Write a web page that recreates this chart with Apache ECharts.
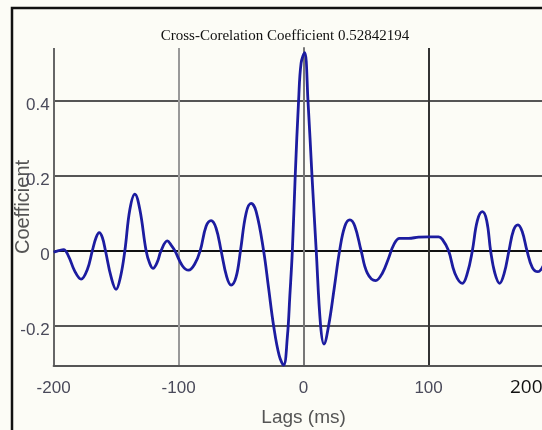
<!DOCTYPE html>
<html>
<head>
<meta charset="utf-8">
<script src="https://cdn.jsdelivr.net/npm/echarts@6/dist/echarts.min.js"></script>
<style>
html,body{margin:0;padding:0;background:#fcfcf6;}
#c{width:542px;height:430px;}
</style>
</head>
<body>
<div id="c"></div>
<script>
const titleText = "Cross-Corelation Coefficient 0.52842194";
const xName = "Lags (ms)";
const yName = "Coefficient";
const xTicks = [-200, -100, 0, 100, 200];
const xLabelTicks = [-200, -100, 0, 100];
const yTicks = [-0.2, 0, 0.2, 0.4];
const extraLabel = "200";

const lags = [-200,-196,-192,-188,-183,-178,-173,-169,-166,-163.5,-161,-158.5,-154,-150,-146.5,-143,-139,-135,-131,-126,-123,-120.5,-117,-114,-109,-106,-103,-97,-92,-87,-82.7,-78,-74,-70,-66,-61.5,-58,-54,-50.5,-46,-42,-38,-32,-28,-24,-19.5,-16,-13,-11,-9,-6.7,-4,-2,0.8,3.5,6.7,10.1,13.6,16.3,20,24.5,28.8,33,37,41,46,51,57.6,63,68,72,76.8,84,92,100,108,111,116,121,127,131,135,139,143,146.5,149.6,153,156.8,160.5,164.3,168,171.5,175,178.7,183,187.5,191,196,200];
const coeff = [-0.004,0.0,0.003,-0.015,-0.055,-0.076,-0.05,0.0,0.035,0.048,0.035,0.0,-0.07,-0.103,-0.07,0.0,0.11,0.151,0.11,0.0,-0.035,-0.047,-0.03,0.0,0.026,0.015,0.0,-0.04,-0.052,-0.035,0.0,0.065,0.08,0.06,0.0,-0.07,-0.092,-0.07,0.0,0.1,0.126,0.105,0.0,-0.1,-0.2,-0.28,-0.305,-0.23,-0.12,0.0,0.2,0.4,0.5,0.528,0.4,0.2,0.0,-0.2,-0.249,-0.2,-0.1,0.0,0.065,0.082,0.065,0.0,-0.06,-0.08,-0.06,-0.02,0.015,0.033,0.033,0.036,0.037,0.037,0.03,0.0,-0.06,-0.087,-0.06,0.0,0.08,0.104,0.08,0.0,-0.06,-0.087,-0.06,0.0,0.055,0.069,0.05,0.0,-0.045,-0.056,-0.045,-0.01,0.01];

const chart = echarts.init(document.getElementById('c'), null, {renderer:'canvas'});
const tickFont = '"Liberation Sans",Arial,sans-serif';
chart.setOption({
  backgroundColor: '#fcfcf6',
  animation: false,
  title: {
    text: titleText, left: 280, top: 24, textAlign: 'center',
    textStyle: {fontFamily: '"Liberation Serif","Times New Roman",serif', fontSize: 15, fontWeight: 'normal', color: '#111'}
  },
  grid: {left: 53.6, top: 48, width: 500, height: 318, containLabel: false, outerBoundsMode: 'none'},
  xAxis: {
    type: 'value', min: -200, max: 200, interval: 100,
    name: xName, nameLocation: 'middle', nameGap: 42, nameMoveOverlap: false,
    nameTextStyle: {fontFamily: tickFont, fontSize: 19, color: '#555'},
    axisLine: {show: true, onZero: false, lineStyle: {color: '#555', width: 2}},
    axisTick: {show: false, customValues: xTicks},
    axisLabel: {customValues: xLabelTicks, margin: 14, fontFamily: tickFont, fontSize: 17, color: '#4a4a5a'},
    splitLine: {show: true, lineStyle: {color: ['#666', '#999', '#222', '#333', '#333'], width: 2}}
  },
  yAxis: {
    type: 'value', min: -0.3075, max: 0.5405,
    name: yName, nameLocation: 'middle', nameGap: 20, nameMoveOverlap: false,
    nameTextStyle: {fontFamily: tickFont, fontSize: 20, color: '#555'},
    axisLine: {show: true, lineStyle: {color: '#777', width: 2}},
    axisTick: {show: false, customValues: yTicks},
    axisLabel: {customValues: yTicks, margin: 4, fontFamily: tickFont, fontSize: 17, color: '#4a4a5a',
      verticalAlign: 'top', lineHeight: 10,
      formatter: v => (Math.abs(v) < 1e-9 ? '0' : String(Math.round(v*10)/10))},
    splitLine: {show: true, lineStyle: {color: ['#555', '#111', '#555', '#555'], width: 2}}
  },
  series: [{
    type: 'line', data: lags.map((l, i) => [l, coeff[i]]),
    smooth: 0.4, showSymbol: false, clip: true,
    lineStyle: {color: '#1c1ca0', width: 2.8}
  }],
  graphic: [
    {type: 'rect', shape: {x: 12, y: 8, width: 700, height: 600}, style: {fill: 'none', stroke: '#111', lineWidth: 2.5}, z: 100},
    {type: 'text', left: 510, top: 378, style: {text: extraLabel, fontFamily: '"Open Sans",sans-serif', fontSize: 19, fill: '#111'}, z: 100}
  ]
});
</script>
</body>
</html>
